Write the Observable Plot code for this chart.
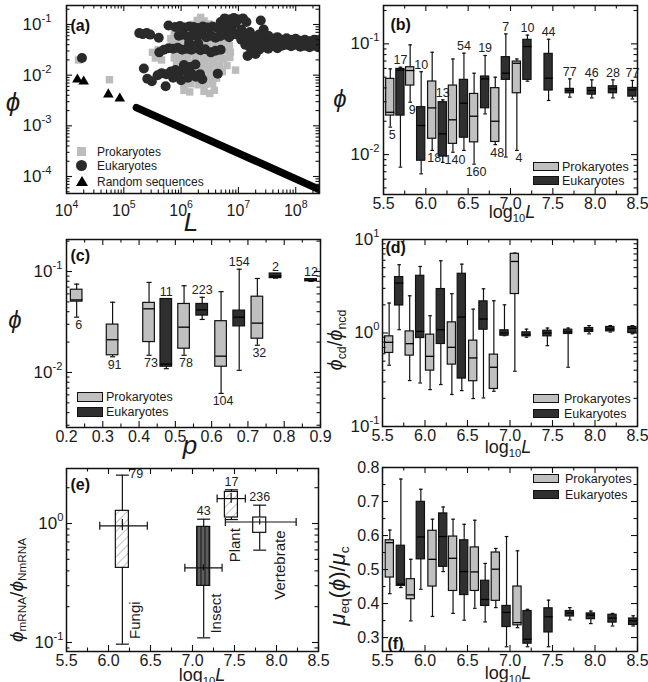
<!DOCTYPE html>
<html><head><meta charset="utf-8">
<script src="https://cdn.jsdelivr.net/npm/d3@7"></script>
<script src="https://cdn.jsdelivr.net/npm/@observablehq/plot@0.6"></script>
<style>
html,body{margin:0;padding:0;background:#fff;}
#fig{position:relative;width:648px;height:682px;overflow:hidden;background:#fff;font-family:"Liberation Sans",Arial,Helvetica,sans-serif;color:#1a1a1a;}
#fig svg{position:absolute;}
.t{position:absolute;white-space:nowrap;line-height:1;}
.t sub{font-size:0.62em;vertical-align:-0.32em;line-height:0;}
.sw{position:absolute;border:1px solid #111;box-sizing:border-box;}
</style></head><body><div id="fig"></div>
<script>
// ================= DATA =================
const groupNames = ["Prokaryotes", "Eukaryotes"];
const scatterNames = ["Prokaryotes", "Eukaryotes", "Random sequences"];

// (a) scatter, values read as [log10 L, log10 phi]
const prokaryotesLog = [
 [4.21,-1.70],[4.75,-2.09],
 [6.34,-0.86],[6.28,-0.92],[6.40,-0.93],[6.22,-1.00],[6.35,-1.00],[6.48,-0.99],[6.12,-1.06],[6.30,-1.08],[6.45,-1.07],[6.58,-1.10],
 [5.88,-1.15],[6.00,-1.14],[6.10,-1.16],[6.22,-1.15],[6.35,-1.17],[6.50,-1.15],[6.62,-1.16],[6.75,-1.18],
 [5.82,-1.28],[5.95,-1.27],[6.06,-1.26],[6.18,-1.28],[6.30,-1.27],[6.42,-1.26],[6.55,-1.28],[6.68,-1.27],[6.80,-1.29],
 [5.85,-1.40],[5.97,-1.39],[6.10,-1.41],[6.22,-1.40],[6.35,-1.38],[6.47,-1.41],[6.60,-1.40],[6.72,-1.39],[6.84,-1.42],
 [5.50,-1.55],[5.60,-1.50],[5.90,-1.53],[6.02,-1.52],[6.14,-1.54],[6.27,-1.53],[6.40,-1.52],[6.52,-1.54],[6.64,-1.53],[6.76,-1.52],[6.86,-1.55],
 [5.55,-1.66],[5.66,-1.70],[5.88,-1.66],[6.00,-1.67],[6.12,-1.65],[6.25,-1.66],[6.38,-1.67],[6.50,-1.65],[6.62,-1.66],[6.74,-1.67],[6.85,-1.65],
 [5.92,-1.79],[6.05,-1.80],[6.18,-1.78],[6.30,-1.80],[6.42,-1.79],[6.55,-1.78],[6.67,-1.80],[6.80,-1.81],
 [5.98,-1.92],[6.10,-1.91],[6.22,-1.93],[6.35,-1.92],[6.48,-1.90],[6.60,-1.92],[6.72,-1.93],[6.95,-1.90],
 [6.02,-2.05],[6.14,-2.04],[6.26,-2.06],[6.38,-2.05],[6.50,-2.04],[6.62,-2.06],
 [6.05,-2.18],[6.17,-2.17],[6.30,-2.19],[6.42,-2.18],[6.55,-2.17],
 [6.05,-2.30],[6.15,-2.33],[6.40,-2.32],[6.50,-2.36],[6.58,-2.30]
];
const eukaryotesLog = [
 [4.27,-1.66],
 [5.27,-1.17],[5.33,-1.19],[5.40,-1.17],[5.46,-1.20],[5.61,-1.26],[5.78,-1.02],
 [5.90,-1.05],[5.98,-1.03],[6.06,-1.06],[6.14,-1.04],[6.22,-1.05],[6.30,-1.07],[6.38,-1.04],[6.46,-1.06],[6.55,-1.04],[6.63,-1.07],[6.72,-1.05],[6.80,-1.08],[6.88,-1.06],
 [5.96,-1.22],[6.04,-1.20],[6.12,-1.24],[6.20,-1.21],[6.28,-1.23],[6.36,-1.20],[6.44,-1.25],[6.52,-1.22],[6.60,-1.26],[6.68,-1.23],[6.76,-1.20],[6.84,-1.25],
 [6.14,-1.36],[6.30,-1.38],
 [6.69,-0.95],[6.76,-0.88],[6.84,-0.90],[6.92,-0.87],[7.00,-0.90],[7.08,-0.88],[7.14,-0.95],[7.39,-0.92],[6.80,-0.98],[6.95,-0.97],
 [5.62,-1.55],[5.70,-1.50],[5.78,-1.47],[5.86,-1.48],[5.94,-1.46],[6.02,-1.50],[6.10,-1.48],[6.18,-1.50],[6.26,-1.47],[6.34,-1.51],[6.42,-1.49],[6.52,-1.55],[6.60,-1.52],[6.69,-1.50],
 [6.25,-1.79],[6.05,-1.80],[6.15,-1.84],
 [5.59,-2.00],[5.66,-1.96],[5.74,-1.98],[5.82,-1.93],[5.90,-1.90],[5.97,-1.95],[6.03,-1.88],[6.10,-1.92],[6.18,-1.97],[6.26,-2.03],[6.33,-1.98],[6.37,-2.08],[5.86,-2.05],[6.00,-2.10],[6.12,-2.05],[6.64,-1.97],
 [5.35,-1.87],[5.41,-2.07],[5.49,-2.12],[5.73,-2.22],
 [6.90,-1.15],[6.98,-1.20],[7.05,-1.10],[7.05,-1.30],[7.12,-1.20],[7.12,-1.40],[7.20,-1.15],[7.20,-1.30],[7.20,-1.45],[7.16,-1.62],[7.30,-1.58],
 [7.28,-1.25],[7.28,-1.40],[7.36,-1.20],[7.36,-1.35],[7.36,-1.50],[7.44,-1.10],[7.44,-1.30],[7.44,-1.45],
 [7.52,-1.22],[7.52,-1.36],[7.52,-1.48],[7.60,-1.28],[7.60,-1.42],[7.68,-1.25],[7.68,-1.38],[7.68,-1.47],
 [7.76,-1.30],[7.76,-1.42],[7.84,-1.27],[7.84,-1.40],[7.92,-1.30],[7.92,-1.43],[8.00,-1.28],[8.00,-1.40],
 [8.08,-1.32],[8.08,-1.44],[8.16,-1.30],[8.16,-1.42],[8.24,-1.33],[8.24,-1.45],[8.32,-1.30],[8.32,-1.42],[8.40,-1.33],[8.40,-1.45],[8.46,-1.36]
];
const randomPointsLog = [[4.19,-2.085],[4.30,-2.125],[4.73,-2.38],[4.93,-2.46]];
const randomBandLog = [[5.22,-2.64],[8.42,-4.26]];
const aXTicks = [1e4, 1e5, 1e6, 1e7, 1e8];
const aYTicks = [1e-4, 1e-3, 1e-2, 1e-1];

// (b) phi vs log10 L
const bPos   = [5.58,5.70,5.815,5.945,6.075,6.20,6.32,6.45,6.57,6.70,6.82,6.945,7.075,7.20,7.45,7.70,7.96,8.21,8.44];
const bGroup = ["P","E","P","E","P","E","P","E","P","E","P","E","P","E","E","E","E","E","E"];
const bLow   = [0.0177,0.0077,0.0297,0.0067,0.0109,0.0085,0.0105,0.0109,0.0082,0.0233,0.0123,0.0095,0.0109,0.046,0.0308,0.033,0.0325,0.0325,0.0318];
const bQ1    = [0.0225,0.0225,0.042,0.0088,0.0139,0.0096,0.0125,0.0142,0.0129,0.0262,0.013,0.0473,0.0358,0.0473,0.0379,0.0358,0.0348,0.0358,0.0334];
const bMed   = [0.0241,0.058,0.0574,0.0183,0.0264,0.0154,0.0206,0.0291,0.0222,0.0483,0.020,0.0543,0.0668,0.0946,0.049,0.0379,0.0379,0.0392,0.0384];
const bQ3    = [0.0483,0.0594,0.0615,0.0268,0.0457,0.0297,0.042,0.0473,0.0353,0.0507,0.0398,0.0758,0.0692,0.1087,0.0812,0.0392,0.040,0.0414,0.040];
const bHigh  = [0.0594,0.0615,0.098,0.056,0.084,0.0312,0.073,0.0824,0.0543,0.0785,0.050,0.123,0.073,0.12,0.11,0.0483,0.0473,0.0473,0.0467];
const bN     = [5,17,9,10,18,13,140,54,160,19,48,7,4,10,44,77,46,28,77];
const lgTicks = [5.5,6.0,6.5,7.0,7.5,8.0,8.5];
const bYTicks = [1e-2, 1e-1];

// (c) phi vs p
const cPos   = [0.228,0.327,0.4275,0.475,0.524,0.574,0.626,0.676,0.726,0.776,0.874];
const cGroup = ["P","P","P","E","P","E","P","E","P","E","E"];
const cLow   = [0.0353,0.0143,0.0148,0.0109,0.0148,0.0335,0.0062,0.0105,0.0186,0.086,0.0798];
const cQ1    = [0.0503,0.0148,0.020,0.0114,0.0172,0.0366,0.0114,0.0286,0.0216,0.086,0.080];
const cMed   = [0.0523,0.0211,0.0427,0.0121,0.0281,0.0417,0.0145,0.0353,0.0308,0.090,0.082];
const cQ3    = [0.066,0.0298,0.0489,0.0534,0.0477,0.0477,0.0322,0.041,0.0563,0.0955,0.0841];
const cHigh  = [0.075,0.0496,0.078,0.0534,0.0723,0.0555,0.0631,0.1054,0.0853,0.0955,0.0841];
const cN     = [6,91,73,11,78,223,104,154,32,2,12];
const cXTicks = [0.2,0.3,0.4,0.5,0.6,0.7,0.8,0.9];
const cYTicks = [1e-2, 1e-1];

// (d) phi_cd / phi_ncd vs log10 L
const dPos   = [5.578,5.696,5.82,5.943,6.06,6.186,6.316,6.433,6.567,6.688,6.81,6.935,7.057,7.194,7.44,7.684,7.93,8.18,8.44];
const dGroup = ["P","E","P","E","P","E","P","E","P","E","P","E","P","E","E","E","E","E","E"];
const dLow   = [0.452,1.085,0.31,0.292,0.248,0.281,0.22,0.242,0.199,0.202,0.238,0.936,0.39,0.90,0.732,0.43,0.98,1.025,0.98];
const dQ1    = [0.612,1.97,0.573,0.884,0.396,0.763,0.459,0.3255,0.305,1.085,0.252,0.936,2.61,0.921,0.921,0.976,1.025,1.04,1.0];
const dMed   = [0.795,3.42,0.769,1.04,0.563,1.085,0.703,1.48,0.541,1.41,0.43,1.0,5.82,0.96,1.0,1.03,1.085,1.1,1.12];
const dQ3    = [0.921,3.96,1.04,4.09,0.96,2.95,1.3,4.3,0.829,2.18,0.587,1.068,7.03,1.016,1.058,1.085,1.13,1.16,1.16];
const dHigh  = [2.09,5.37,2.5,5.15,1.53,5.92,2.63,5.45,1.8,2.97,2.21,2.0,7.15,1.1,1.13,1.13,1.2,1.2,1.2];
const dYTicks = [0.1, 1, 10];

// (e) phi_mRNA / phi_NmRNA by taxon
const eGroups = ["Fungi","Insect","Plant","Vertebrate"];
const ePos    = [6.165,7.133,7.463,7.80];
const eLow    = [0.0968,0.1094,1.08,0.597];
const eQ1     = [0.424,0.299,1.123,0.835];
const eQ3     = [1.278,0.937,1.845,1.123];
const eHigh   = [2.55,1.087,1.92,1.426];
const eMeanX  = [6.165,7.13,7.46,7.80];
const eXLow   = [5.896,6.909,7.293,7.391];
const eXHigh  = [6.462,7.352,7.629,8.234];
const eMeanY  = [0.956,0.424,1.62,1.03];
const eYLow   = [0.87,0.40,1.47,0.97];
const eYHigh  = [1.08,0.45,1.79,1.09];
const eN      = [79,43,17,236];
const eYTicks = [0.1, 1];

// (f) mu_eq(phi)/mu_c vs log10 L
const fPos   = [5.586,5.716,5.833,5.951,6.088,6.214,6.33,6.461,6.586,6.708,6.833,6.959,7.088,7.206,7.453,7.704,7.951,8.206,8.449];
const fGroup = ["P","E","P","E","P","E","P","E","P","E","P","E","P","E","E","E","E","E","E"];
const fLow   = [0.429,0.447,0.349,0.442,0.362,0.494,0.371,0.351,0.386,0.346,0.388,0.273,0.329,0.273,0.273,0.352,0.341,0.334,0.334];
const fQ1    = [0.4765,0.452,0.4127,0.530,0.45,0.508,0.437,0.425,0.437,0.393,0.408,0.331,0.336,0.282,0.315,0.362,0.354,0.344,0.337];
const fMed   = [0.579,0.457,0.4255,0.596,0.53,0.597,0.533,0.494,0.493,0.412,0.501,0.374,0.344,0.295,0.361,0.372,0.366,0.357,0.349];
const fQ3    = [0.586,0.570,0.4716,0.699,0.614,0.665,0.597,0.586,0.565,0.467,0.55,0.393,0.45,0.378,0.386,0.378,0.371,0.367,0.356];
const fHigh  = [0.616,0.766,0.530,0.736,0.648,0.684,0.648,0.633,0.645,0.518,0.562,0.597,0.555,0.383,0.41,0.388,0.378,0.371,0.364];
const fYTicks = [0.3,0.4,0.5,0.6,0.7,0.8];

// ================= RENDERING =================
const GRAY = "#c0c0c0", DARK = "#2f2f2f", INK = "#111";
const FONT = '"Liberation Sans", Arial, Helvetica, sans-serif';
const fig = document.getElementById("fig");

const pow10 = v => Math.pow(10, v);
const logMinors = (e0, e1) => { const o = []; for (let e = e0; e <= e1; e++) for (let m = 2; m <= 9; m++) o.push(m * Math.pow(10, e)); return o; };
const stepMinors = (a, b, s) => { const o = []; for (let v = a; v <= b + 1e-9; v += s) o.push(+v.toFixed(4)); return o; };
const expFmt = d => "10^" + Math.round(Math.log10(d));
const f1 = d3.format(".1f");

function supify(svg) {
  const ns = "http://www.w3.org/2000/svg";
  svg.querySelectorAll("text").forEach(t => {
    const m = /^10\^(-?\d+)$/.exec(t.textContent);
    if (!m) return;
    t.textContent = "";
    const a = document.createElementNS(ns, "tspan"); a.textContent = "10"; t.appendChild(a);
    const b = document.createElementNS(ns, "tspan"); b.textContent = m[1];
    b.setAttribute("font-size", "0.66em"); b.setAttribute("dy", "-0.72em"); t.appendChild(b);
  });
}

function panel(cfg) {
  const [L, T, W, H] = cfg.box;
  const [fl, ft, fr, fb] = cfg.frame;
  const fw = fr - fl, fh = fb - ft;
  const xd = cfg.x.domain, yd = cfg.y.domain;
  const inX = v => v >= xd[0] * (1 - 1e-9) && v <= xd[1] * (1 + 1e-9);
  const inY = v => v >= yd[0] * (1 - 1e-9) && v <= yd[1] * (1 + 1e-9);
  const xM = cfg.x.ticks.filter(inX), xm = cfg.x.minor.filter(inX);
  const yM = cfg.y.ticks.filter(inY), ym = cfg.y.minor.filter(inY);
  const tk = {stroke: INK, strokeWidth: 1.1};
  const svg = Plot.plot({
    width: W, height: H,
    marginLeft: fl - L, marginRight: L + W - fr, marginTop: ft - T, marginBottom: T + H - fb,
    x: {type: cfg.x.type, domain: xd},
    y: {type: cfg.y.type, domain: yd},
    style: {background: "transparent", overflow: "visible", fontFamily: FONT, color: "#1a1a1a", fontSize: "16px"},
    marks: [
      ...cfg.marks,
      Plot.tickX(xM, {x: d => d, ...tk, insetTop: fh - 6}),
      Plot.tickX(xM, {x: d => d, ...tk, insetBottom: fh - 6}),
      Plot.tickX(xm, {x: d => d, ...tk, insetTop: fh - 3.5}),
      Plot.tickX(xm, {x: d => d, ...tk, insetBottom: fh - 3.5}),
      Plot.tickY(yM, {y: d => d, ...tk, insetRight: fw - 6}),
      Plot.tickY(yM, {y: d => d, ...tk, insetLeft: fw - 6}),
      Plot.tickY(ym, {y: d => d, ...tk, insetRight: fw - 3.5}),
      Plot.tickY(ym, {y: d => d, ...tk, insetLeft: fw - 3.5}),
      Plot.frame({stroke: INK, strokeWidth: 1.5}),
      Plot.axisX(cfg.x.ticks, {tickSize: 0, tickPadding: cfg.x.pad, tickFormat: cfg.x.format, fontSize: cfg.x.fontSize, label: null}),
      Plot.axisY(cfg.y.ticks, {tickSize: 0, tickPadding: cfg.y.pad, tickFormat: cfg.y.format, fontSize: cfg.y.fontSize, label: null}),
      Plot.text([cfg.tag], {frameAnchor: cfg.tagAnchor || "top-left", dx: cfg.tagDx, dy: cfg.tagDy,
        lineAnchor: (cfg.tagAnchor || "top-left").startsWith("bottom") ? "bottom" : "top",
        textAnchor: "start", text: d => d, fontWeight: "bold", fontSize: 16, fill: "#111"})
    ]
  });
  svg.style.left = L + "px"; svg.style.top = T + "px";
  if (cfg.defs) d3.select(svg).insert("defs", ":first-child").html(cfg.defs);
  fig.appendChild(svg);
  supify(svg);
  return svg;
}

const rowsOf = (pos, grp, lo, q1, med, q3, hi, n) =>
  pos.map((x, i) => ({x, g: grp[i], lo: lo[i], q1: q1[i], med: med[i], q3: q3[i], hi: hi[i], n: n ? n[i] : ""}));

function boxMarks(rows, w) {
  const half = w / 2, cap = w * 0.22;
  const P = rows.filter(r => r.g === "P"), E = rows.filter(r => r.g === "E");
  const line = {stroke: INK, strokeWidth: 1.2};
  return [
    Plot.ruleX(rows, {x: "x", y1: "lo", y2: "hi", ...line}),
    Plot.link(rows, {x1: r => r.x - cap, x2: r => r.x + cap, y1: "lo", y2: "lo", ...line}),
    Plot.link(rows, {x1: r => r.x - cap, x2: r => r.x + cap, y1: "hi", y2: "hi", ...line}),
    Plot.rect(P, {x1: r => r.x - half, x2: r => r.x + half, y1: "q1", y2: "q3", fill: GRAY, ...line}),
    Plot.rect(E, {x1: r => r.x - half, x2: r => r.x + half, y1: "q1", y2: "q3", fill: DARK, ...line}),
    Plot.link(rows, {x1: r => r.x - half, x2: r => r.x + half, y1: "med", y2: "med", stroke: "#000", strokeWidth: 1.3})
  ];
}
function countMarks(rows) {
  const P = rows.filter(r => r.g === "P"), E = rows.filter(r => r.g === "E");
  const t = {text: "n", fontSize: 12.5, fill: "#222"};
  return [
    Plot.text(P, {x: "x", y: "lo", lineAnchor: "top", dy: 3, dx: 2, ...t}),
    Plot.text(E, {x: "x", y: "hi", lineAnchor: "bottom", dy: -3, ...t})
  ];
}

const lgX = {type: "linear", domain: [5.5, 8.5], ticks: lgTicks, minor: stepMinors(5.75, 8.25, 0.5), format: f1, pad: 3, fontSize: 16};

// ---- (a)
panel({
  box: [0, 0, 324, 232], frame: [66, 5, 319, 193], tag: "(a)", tagDx: 4, tagDy: 14,
  x: {type: "log", domain: [1e4, 2.6e8], ticks: aXTicks, minor: logMinors(4, 8), format: expFmt, pad: 11, fontSize: 16},
  y: {type: "log", domain: [4.62e-5, 0.237], ticks: aYTicks, minor: logMinors(-5, -1), format: expFmt, pad: 15, fontSize: 17},
  marks: [
    Plot.dot(prokaryotesLog, {x: d => pow10(d[0]), y: d => pow10(d[1]), symbol: "square", r: 4.2, fill: "#bcbcbc", clip: true}),
    Plot.line(randomBandLog, {x: d => pow10(d[0]), y: d => pow10(d[1]), stroke: "#000", strokeWidth: 7.5, clip: true}),
    Plot.dot(randomPointsLog, {x: d => pow10(d[0]), y: d => pow10(d[1]), symbol: "triangle", r: 3.9, fill: "#000", clip: true}),
    Plot.dot(eukaryotesLog, {x: d => pow10(d[0]), y: d => pow10(d[1]), symbol: "circle", r: 5, fill: "#2a2a2a", clip: true})
  ]
});

// ---- (b)
const bRows = rowsOf(bPos, bGroup, bLow, bQ1, bMed, bQ3, bHigh, bN);
panel({
  box: [324, 0, 324, 232], frame: [383, 5, 637, 194], tag: "(b)", tagDx: 7, tagDy: 13,
  x: lgX,
  y: {type: "log", domain: [0.00436, 0.222], ticks: bYTicks, minor: logMinors(-3, -1), format: expFmt, pad: 4, fontSize: 17},
  marks: [...boxMarks(bRows, 0.097), ...countMarks(bRows)]
});

// ---- (c)
const cRows = rowsOf(cPos, cGroup, cLow, cQ1, cMed, cQ3, cHigh, cN);
panel({
  box: [0, 232, 324, 228], frame: [66, 239, 320, 427], tag: "(c)", tagDx: 4, tagDy: 10,
  x: {type: "linear", domain: [0.2, 0.9], ticks: cXTicks, minor: stepMinors(0.25, 0.85, 0.1), format: f1, pad: 3, fontSize: 16},
  y: {type: "log", domain: [0.00285, 0.2075], ticks: cYTicks, minor: logMinors(-3, -1), format: expFmt, pad: 4, fontSize: 17},
  marks: [...boxMarks(cRows, 0.032), ...countMarks(cRows)]
});

// ---- (d)
const dRows = rowsOf(dPos, dGroup, dLow, dQ1, dMed, dQ3, dHigh);
panel({
  box: [324, 232, 324, 228], frame: [382, 239, 637, 426], tag: "(d)", tagDx: 3, tagDy: 2,
  x: lgX,
  y: {type: "log", domain: [0.1, 10], ticks: dYTicks, minor: logMinors(-1, 0), format: expFmt, pad: 3, fontSize: 17},
  marks: boxMarks(dRows, 0.097)
});

// ---- (e)
const eRows = eGroups.map((name, i) => ({name, x: ePos[i], lo: eLow[i], q1: eQ1[i], q3: eQ3[i], hi: eHigh[i],
  mx: eMeanX[i], xlo: eXLow[i], xhi: eXHigh[i], my: eMeanY[i], ylo: eYLow[i], yhi: eYHigh[i], n: eN[i]}));
const eFillOf = {Fungi: "url(#eHatch)", Insect: "url(#eStripe)", Plant: "url(#eHatch)", Vertebrate: "#ffffff"};
const eNameAnchor = {Fungi: [6.323, 0.154], Insect: [7.285, 0.175], Plant: [7.51, 0.657], Vertebrate: [8.045, 0.447]};
const vbar = {draw(ctx, size) { const h = Math.sqrt(size / Math.PI); ctx.moveTo(0, -h); ctx.lineTo(0, h); }};
const eW = 0.155, eLine = {stroke: INK, strokeWidth: 1.2};
panel({
  box: [0, 460, 324, 222], frame: [66, 468, 318, 651], tag: "(e)", tagDx: 4, tagDy: 10,
  defs: `<pattern id="eHatch" width="6" height="6" patternUnits="userSpaceOnUse" patternTransform="rotate(45)">
           <rect width="6" height="6" fill="#fff"/><line x1="0" y1="0" x2="0" y2="6" stroke="#9a9a9a" stroke-width="1.2"/></pattern>
         <pattern id="eStripe" width="4" height="4" patternUnits="userSpaceOnUse">
           <rect width="4" height="4" fill="#5e5e5e"/><line x1="1" y1="0" x2="1" y2="4" stroke="#111" stroke-width="1"/></pattern>`,
  x: lgX,
  y: {type: "log", domain: [0.084, 2.9], ticks: eYTicks, minor: logMinors(-2, 0), format: expFmt, pad: 3, fontSize: 17},
  marks: [
    Plot.ruleX(eRows, {x: "x", y1: "lo", y2: "hi", ...eLine}),
    Plot.link(eRows, {x1: r => r.x - eW / 2, x2: r => r.x + eW / 2, y1: "lo", y2: "lo", ...eLine}),
    Plot.link(eRows, {x1: r => r.x - eW / 2, x2: r => r.x + eW / 2, y1: "hi", y2: "hi", ...eLine}),
    ...eRows.map(r => Plot.rect([r], {x1: d => d.x - eW / 2, x2: d => d.x + eW / 2, y1: "q1", y2: "q3", fill: eFillOf[r.name], ...eLine})),
    Plot.link(eRows, {x1: "xlo", x2: "xhi", y1: "my", y2: "my", ...eLine}),
    Plot.dot(eRows.flatMap(r => [{x: r.xlo, y: r.my}, {x: r.xhi, y: r.my}]), {x: "x", y: "y", symbol: vbar, r: 4, stroke: INK, strokeWidth: 1.2, fill: "none"}),
    Plot.ruleX(eRows, {x: "mx", y1: "ylo", y2: "yhi", ...eLine}),
    Plot.text(eRows, {x: r => eNameAnchor[r.name][0], y: r => eNameAnchor[r.name][1], text: "name", rotate: -90, fontSize: 15, fill: "#1a1a1a"}),
    Plot.text(eRows.slice(0, 1), {x: "x", y: "hi", text: "n", textAnchor: "start", dx: 7, dy: -1, fontSize: 12.5, fill: "#222"}),
    Plot.text(eRows.slice(1), {x: "x", y: "hi", text: "n", lineAnchor: "bottom", dy: -4, fontSize: 12.5, fill: "#222"})
  ]
});

// ---- (f)
const fRows = rowsOf(fPos, fGroup, fLow, fQ1, fMed, fQ3, fHigh);
panel({
  box: [324, 460, 324, 222], frame: [382, 467, 637, 651], tag: "(f)", tagAnchor: "bottom-left", tagDx: 5, tagDy: -3,
  x: lgX,
  y: {type: "linear", domain: [0.259, 0.8], ticks: fYTicks, minor: stepMinors(0.35, 0.75, 0.1), format: f1, pad: 3, fontSize: 16},
  marks: boxMarks(fRows, 0.097)
});

// ================= TITLES & LEGENDS (HTML) =================
function T(cx, cy, size, inner, rot) {
  const el = document.createElement("div"); el.className = "t";
  el.style.left = cx + "px"; el.style.top = cy + "px"; el.style.fontSize = size + "px";
  el.style.transform = "translate(-50%,-50%)" + (rot ? " rotate(-90deg)" : "");
  el.innerHTML = inner; fig.appendChild(el);
}
const PHI = "<i>\u03D5</i>";
T(13, 102, 26, PHI);
T(191, 222, 26, "<i>L</i>");
T(340, 99, 24, PHI);
T(512, 212, 18, "log<sub>10</sub><i>L</i>");
T(15, 320, 24, PHI);
T(190, 445, 26, "<i>p</i>");
T(335, 340, 20, PHI + "<sub>cd</sub>/" + PHI + "<sub>ncd</sub>", true);
T(508, 447, 18, "log<sub>10</sub><i>L</i>");
T(16, 590, 19, PHI + "<sub>mRNA</sub>/" + PHI + "<sub>NmRNA</sub>", true);
T(202, 675, 18, "log<sub>10</sub><i>L</i>");
T(338, 586, 22, "<i>\u03BC</i><sub>eq</sub>(" + PHI + ")/<i>\u03BC</i><sub>c</sub>", true);
T(508, 673, 18, "log<sub>10</sub><i>L</i>");

function box(css) { const el = document.createElement("div"); el.style.cssText = "position:absolute;" + css; fig.appendChild(el); return el; }
function legText(x, cy, txt, size) {
  const el = document.createElement("div"); el.className = "t";
  el.style.left = x + "px"; el.style.top = cy + "px"; el.style.fontSize = size + "px";
  el.style.transform = "translateY(-50%)"; el.textContent = txt; fig.appendChild(el);
}
function groupLegend(x, y1, y2, tx, h) {
  const s1 = box(`left:${x}px;top:${y1}px;width:26px;height:${h}px;`); s1.className = "sw"; s1.style.background = GRAY;
  const s2 = box(`left:${x}px;top:${y2}px;width:26px;height:${h}px;`); s2.className = "sw"; s2.style.background = DARK;
  legText(tx, y1 + h / 2, groupNames[0], 12.5);
  legText(tx, y2 + h / 2, groupNames[1], 12.5);
}
groupLegend(533, 162, 176, 562, 9);
groupLegend(77, 392, 407, 106, 10);
groupLegend(533, 394, 409, 564, 9);
groupLegend(533, 474, 490, 565, 9);

// (a) legend
box("left:77px;top:147px;width:9px;height:9px;background:#bcbcbc;");
box("left:76px;top:160px;width:11px;height:11px;border-radius:50%;background:#2a2a2a;");
box("left:76px;top:176px;width:0;height:0;border-left:6px solid transparent;border-right:6px solid transparent;border-bottom:10px solid #000;");
legText(97, 151.5, scatterNames[0], 12);
legText(97, 165.5, scatterNames[1], 12);
legText(97, 181.5, scatterNames[2], 12);
</script></body></html>
